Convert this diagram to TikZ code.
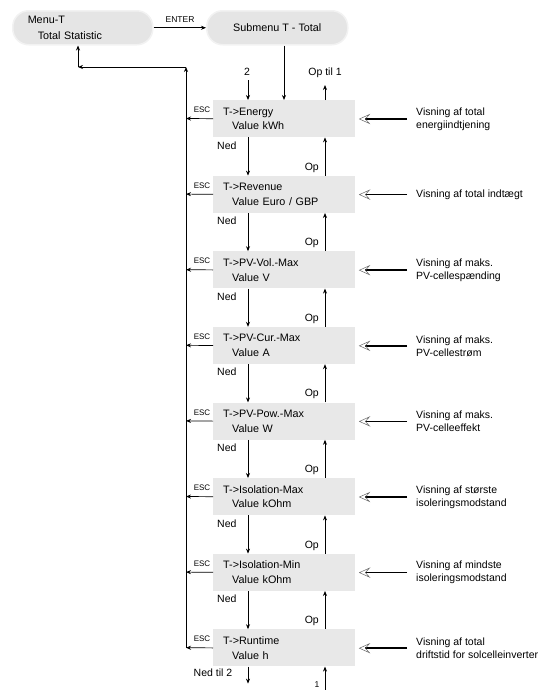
\documentclass[tikz,border=0pt]{standalone}
\usepackage{fontspec}
\setmainfont{Liberation Sans}
\usetikzlibrary{arrows.meta,calc}
\tikzset{
  arr/.style={-{Stealth[length=5pt,width=4pt]}, line width=0.7pt},
  box/.style={anchor=north west, fill=black!9, minimum width=142pt, minimum height=37pt,
    text width=122pt, inner xsep=10pt, inner ysep=0pt, align=left,
    font=\fontsize{10.8}{14.5}\selectfont},
  pill/.style={fill=black!10, draw=black!5, line width=1.5pt, rounded corners=16pt, minimum height=34pt, anchor=north west},
  esctxt/.style={font=\fontsize{8}{9}\selectfont, inner sep=0pt},
  lbl/.style={font=\fontsize{10.5}{12}\selectfont, inner sep=0pt},
  small/.style={font=\fontsize{8.5}{10}\selectfont, inner sep=0pt},
  rtxt/.style={anchor=west, align=left, inner sep=0pt, font=\fontsize{10.5}{13}\selectfont},
  info/.style={line width=1.5pt},
  chev/.style={line width=0.5pt, draw=black!60},
}
\newcommand\mkstage[4]{%
  \node[box] (b#1) at (213,#2) {#3};
  \coordinate (e#1) at (186,#2+18.5);
  \draw[arr] (b#1.west) -- (e#1);
  \node[esctxt] (esc#1) at (202,#2+10) {ESC};
  \coordinate (r#1) at (407,#2+19);
  \draw[info] (r#1) -- ($(b#1.north east)+(10,19)$);
  \draw[chev] ($(b#1.north east)+(14,14.5)$) -- ($(b#1.north east)+(4,19)$) --
    ($(b#1.north east)+(14,23.5)$) -- ($(b#1.north east)+(10,19)$) -- cycle;
  \node[rtxt] (t#1) at (416,#2+19) {#4};
}
\newcommand\mkstep[2]{%
  \draw[arr] ($(b#1.south west)+(35,0)$) -- ($(b#2.north west)+(35,0)$);
  \node[lbl,anchor=west] (ned#1) at ($(b#1.south west)+(4,8)$) {Ned};
  \draw[arr] ($(b#2.north west)+(112,0)$) -- ($(b#1.south west)+(112,0)$);
  \node[lbl,anchor=east] (op#1) at ($(b#2.north west)+(106,-8)$) {Op};
}
\begin{document}
\begin{tikzpicture}[x=1pt,y=-1pt]
\useasboundingbox (0,0) rectangle (544,691);

% top menus
\node[pill, minimum width=140pt, text width=110pt, inner xsep=15pt, align=left,
  font=\fontsize{10.8}{15}\selectfont] (menu) at (12,10)
  {\raisebox{1.5pt}{Menu-T}\\\hspace*{10pt}Total Statistic};
\node[pill, minimum width=141pt, font=\fontsize{10.8}{14}\selectfont] (sub) at (206,10) {Submenu T - Total};
\draw[arr] (menu.east) -- (sub.west);
\node[small] (enter) at (180,20) {ENTER};

% stages
\mkstage{1}{100}{T->Energy\\\hspace*{9pt}Value kWh}{Visning af total\\energiindtjening}
\mkstage{2}{175.6}{T->Revenue\\\hspace*{9pt}Value Euro / GBP}{Visning af total indtægt}
\mkstage{3}{251.2}{T->PV-Vol.-Max\\\hspace*{9pt}Value V}{Visning af maks.\\PV-cellespænding}
\mkstage{4}{326.8}{T->PV-Cur.-Max\\\hspace*{9pt}Value A}{Visning af maks.\\PV-cellestrøm}
\mkstage{5}{402.4}{T->PV-Pow.-Max\\\hspace*{9pt}Value W}{Visning af maks.\\PV-celleeffekt}
\mkstage{6}{478}{T->Isolation-Max\\\hspace*{9pt}Value kOhm}{Visning af største\\isoleringsmodstand}
\mkstage{7}{553.6}{T->Isolation-Min\\\hspace*{9pt}Value kOhm}{Visning af mindste\\isoleringsmodstand}
\mkstage{8}{629.2}{T->Runtime\\\hspace*{9pt}Value h}{Visning af total\\driftstid for solcelleinverter}

\mkstep{1}{2}
\mkstep{2}{3}
\mkstep{3}{4}
\mkstep{4}{5}
\mkstep{5}{6}
\mkstep{6}{7}
\mkstep{7}{8}

% submenu to first stage
\coordinate (s1) at ($(b1.north west)+(71,0)$);
\draw[arr] (s1 |- sub.south) -- (s1);

% entry "2" and "Op til 1"
\node[lbl] (two) at (247,72) {2};
\coordinate (twoe) at ($(b1.north west)+(35,-20)$);
\draw[arr] (twoe) -- ($(b1.north west)+(35,0)$);
\node[lbl] (optil) at (325,73) {Op til 1};
\coordinate (optile) at ($(b1.north west)+(112,-15)$);
\draw[arr] ($(b1.north west)+(112,0)$) -- (optile);

% bottom "Ned til 2" and "1"
\node[lbl] (nedtil) at (213,673) {Ned til 2};
\coordinate (nedtile) at ($(b8.south west)+(35,17)$);
\draw[arr] ($(b8.south west)+(35,0)$) -- (nedtile);
\node[small] (one) at (317,685) {1};
\coordinate (onee) at ($(b8.south west)+(112,23)$);
\draw[arr] (onee) -- ($(b8.south west)+(112,0)$);

% ESC return path
\coordinate (esctop) at (186,67);
\coordinate (menuret) at (78,67);
\draw[line width=0.7pt] (e1) -- (e8);
\draw[arr] (e1) -- (esctop);
\draw[arr] (esctop) -- (menuret);
\draw[arr] (menuret) -- (menu.south -| menuret);
\end{tikzpicture}
\end{document}
